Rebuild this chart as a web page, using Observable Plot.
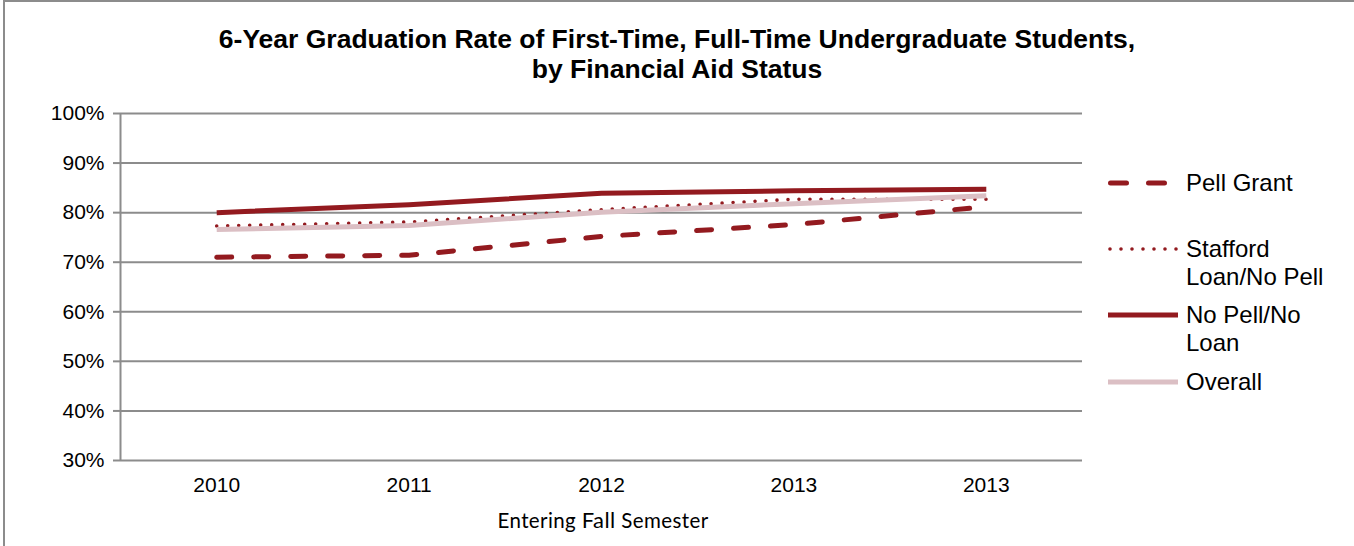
<!DOCTYPE html>
<html>
<head>
<meta charset="utf-8">
<script src="https://cdn.jsdelivr.net/npm/d3@7"></script>
<script src="https://cdn.jsdelivr.net/npm/@observablehq/plot@0.6"></script>
<style>
  html, body { margin: 0; padding: 0; background: #fff; }
  #wrap { position: relative; width: 1354px; height: 546px; overflow: hidden; font-family: "Liberation Sans", Arial, sans-serif; }
  #frame { position: absolute; left: 3px; top: 0; width: 1360px; height: 560px; border-left: 2px solid #8c8c8c; border-top: 2px solid #8c8c8c; box-sizing: border-box; pointer-events: none; }
  #title { position: absolute; left: 0; top: 24px; width: 1354px; text-align: center; font-weight: bold; font-size: 26.5px; line-height: 30px; color: #000; }
  #xlabel { position: absolute; left: 0; width: 1206px; top: 508px; text-align: center; font-family: Lato, "Open Sans", sans-serif; font-size: 20.5px; letter-spacing: 0.4px; line-height: 24px; color: #000; }
  #chart { position: absolute; left: 0; top: 0; }
  .leg { position: absolute; left: 1108px; }
  .leg svg { position: absolute; left: 0; overflow: visible; }
  .leg .txt { position: absolute; left: 78px; font-size: 24px; line-height: 28px; white-space: nowrap; color: #000; }
</style>
</head>
<body>
<div id="wrap">
  <div id="chart"></div>
  <div id="title">6-Year Graduation Rate of First-Time, Full-Time Undergraduate Students,<br>by Financial Aid Status</div>
  <div id="xlabel">Entering <span style="font-size:22px">Fall</span> Semester</div>
  <div id="legend"></div>
  <div id="frame"></div>
</div>
<script>
// ---- data ----
const years = ["2010", "2011", "2012", "2013", "2013"];
const pellGrant    = [0.710, 0.714, 0.752, 0.776, 0.812];
const staffordLoan = [0.773, 0.781, 0.806, 0.827, 0.827];
const noPellNoLoan = [0.800, 0.816, 0.839, 0.844, 0.847];
const overall      = [0.766, 0.774, 0.801, 0.818, 0.834];
const seriesNames  = ["Pell Grant", "Stafford\nLoan/No Pell", "No Pell/No\nLoan", "Overall"];
const yTicks = [0.3, 0.4, 0.5, 0.6, 0.7, 0.8, 0.9, 1.0];

const dark = "#931a1f";
const pink = "#dbbfc4";
const grid = "#8c8c8c";

const idx = years.map((_, i) => i);

const styles = [
  {values: pellGrant, stroke: dark, strokeWidth: 5, strokeDasharray: "15 22", strokeLinecap: "round"},
  {values: staffordLoan, stroke: dark, strokeWidth: 3.6, strokeDasharray: "0 11", strokeLinecap: "round"},
  {values: noPellNoLoan, stroke: dark, strokeWidth: 5, strokeLinecap: "butt"},
  {values: overall, stroke: pink, strokeWidth: 5, strokeLinecap: "butt"}
];

const chart = Plot.plot({
  width: 1354,
  height: 546,
  marginLeft: 120,
  marginRight: 272,
  marginTop: 113,
  marginBottom: 86,
  x: {type: "linear", domain: [-0.5, years.length - 0.5]},
  y: {domain: [0.3, 1]},
  style: {fontFamily: "'Liberation Sans', Arial, sans-serif", fontSize: "21px", background: "transparent", color: "#000", overflow: "visible"},
  marks: [
    Plot.gridY(yTicks, {stroke: grid, strokeOpacity: 1, strokeWidth: 2}),
    Plot.ruleX([-0.5], {stroke: grid, strokeWidth: 2}),
    Plot.axisY(yTicks, {tickFormat: d3.format(".0%"), tickSize: 7, tickPadding: 9, stroke: grid, strokeWidth: 2, label: null}),
    Plot.axisX(idx, {tickFormat: i => years[i], tickSize: 0, tickPadding: 17, label: null}),
    ...styles.map(s => Plot.line(idx, {
      x: i => i,
      y: i => s.values[i],
      stroke: s.stroke,
      strokeWidth: s.strokeWidth,
      strokeDasharray: s.strokeDasharray,
      strokeLinecap: s.strokeLinecap,
      strokeLinejoin: "round"
    }))
  ]
});
document.getElementById("chart").appendChild(chart);

// ---- legend ----
const legendTops = [169, 235, 301, 368];
const legend = document.getElementById("legend");
seriesNames.forEach((name, k) => {
  const s = styles[k];
  const item = document.createElement("div");
  item.className = "leg";
  item.style.top = legendTops[k] + "px";
  const len = k === 0 ? 59 : 70;
  item.innerHTML =
    `<svg width="72" height="28" style="top:0"><line x1="${k === 0 ? 2.5 : (k === 1 ? 2 : 0)}" y1="14" x2="${len - (k === 0 ? 2.5 : 0)}" y2="14" stroke="${s.stroke}" stroke-width="${s.strokeWidth}" ${s.strokeDasharray ? `stroke-dasharray="${k === 0 ? "16 22" : s.strokeDasharray}"` : ""} stroke-linecap="${s.strokeLinecap}"/></svg>` +
    `<div class="txt" style="top:0">${name.replace("\n", "<br>")}</div>`;
  legend.appendChild(item);
});
</script>
</body>
</html>
